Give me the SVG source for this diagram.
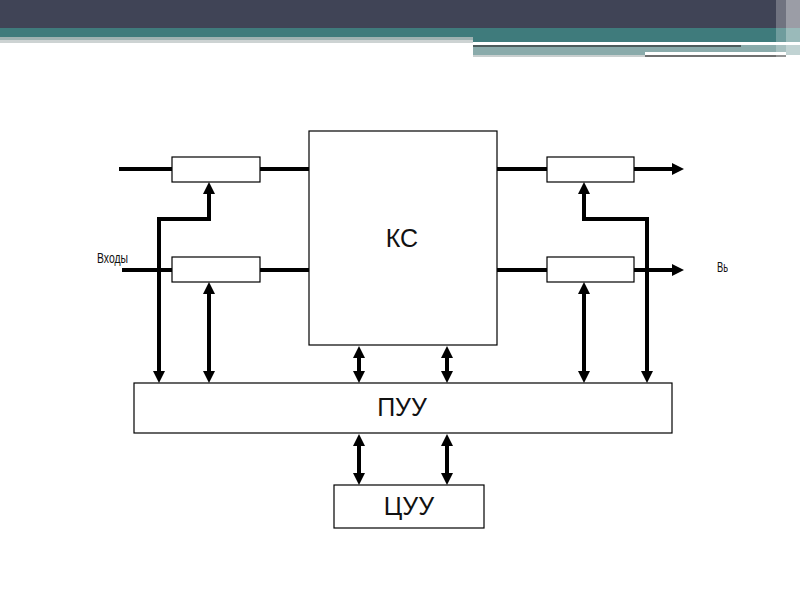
<svg xmlns="http://www.w3.org/2000/svg" width="800" height="600" viewBox="0 0 800 600">
<style>
.box{fill:#fff;stroke:#000;stroke-width:1.2}
.w{fill:none;stroke:#000;stroke-width:4}
.lbl{font-family:"Liberation Sans",Arial,sans-serif;fill:#111}
.big{font-size:25px;text-anchor:middle}
.sm{font-size:15.5px}
</style>
<defs>
<marker id="ah" viewBox="0 0 12 12" refX="5" refY="6" markerWidth="12" markerHeight="12" markerUnits="userSpaceOnUse" orient="auto-start-reverse">
<path d="M0,0 L12,6 L0,12 z" fill="#000"/>
</marker>
<clipPath id="cl"><rect x="700" y="250" width="28" height="40"/></clipPath>
</defs>
<rect width="800" height="600" fill="#fff"/>
<g id="header">
<rect x="0" y="0" width="800" height="28" fill="#404456"/>
<rect x="0" y="28" width="800" height="9" fill="#3f7b7c"/>
<rect x="473" y="37" width="327" height="5" fill="#3f7b7c"/>
<rect x="0" y="37" width="473" height="3" fill="#9fb2b2"/>
<rect x="0" y="40" width="473" height="3" fill="#cdd3d3"/>
<rect x="473" y="45" width="327" height="10" fill="#8aabab"/>
<rect x="473" y="42" width="268" height="3" fill="#fff"/>
<rect x="473" y="45" width="268" height="2" fill="#4c5c5c"/>
<rect x="645" y="52" width="141" height="3" fill="#fff"/>
<rect x="645" y="55" width="141" height="2" fill="#707070"/>
<rect x="473" y="55" width="172" height="2" fill="#c9cfcf"/>
<rect x="776" y="0" width="24" height="57" fill="#fff" opacity="0.25"/>
<rect x="786" y="0" width="14" height="60" fill="#fff" opacity="0.3"/>
</g>
<g id="connectors">
<path class="w" d="M119,169 H172 M260,169 H309"/>
<path class="w" d="M122,270 H172 M260,270 H309"/>
<path class="w" d="M497,169 H547 M634,169 H677" marker-end="url(#ah)"/>
<path class="w" d="M497,270 H547 M634,270 H677" marker-end="url(#ah)"/>
<path class="w" d="M159,376 V219 H209 V189" marker-start="url(#ah)" marker-end="url(#ah)"/>
<path class="w" d="M209,289 V376" marker-start="url(#ah)" marker-end="url(#ah)"/>
<path class="w" d="M647,376 V219 H584 V189" marker-start="url(#ah)" marker-end="url(#ah)"/>
<path class="w" d="M584,289 V376" marker-start="url(#ah)" marker-end="url(#ah)"/>
<path class="w" d="M359,353 V376" marker-start="url(#ah)" marker-end="url(#ah)"/>
<path class="w" d="M447,353 V376" marker-start="url(#ah)" marker-end="url(#ah)"/>
<path class="w" d="M359,441 V478" marker-start="url(#ah)" marker-end="url(#ah)"/>
<path class="w" d="M447,441 V478" marker-start="url(#ah)" marker-end="url(#ah)"/>
</g>
<g id="reg-in-1"><rect class="box" x="172" y="157" width="88" height="25"/></g>
<g id="reg-in-2"><rect class="box" x="172" y="257" width="88" height="25"/></g>
<g id="reg-out-1"><rect class="box" x="547" y="157" width="87" height="25"/></g>
<g id="reg-out-2"><rect class="box" x="547" y="257" width="87" height="25"/></g>
<g id="ks"><rect class="box" x="309" y="131" width="188" height="214"/><text class="lbl big" x="402" y="247">КС</text></g>
<g id="puu"><rect class="box" x="134" y="383" width="538" height="50"/><text class="lbl big" x="402" y="416">ПУУ</text></g>
<g id="cuu"><rect class="box" x="334" y="485" width="150" height="43"/><text class="lbl big" x="409" y="515">ЦУУ</text></g>
<g id="labels">
<text class="lbl sm" x="97" y="263" textLength="31" lengthAdjust="spacingAndGlyphs">Входы</text>
<text class="lbl sm" x="717" y="272" textLength="13" lengthAdjust="spacingAndGlyphs" clip-path="url(#cl)">Вы</text>
</g>
</svg>
